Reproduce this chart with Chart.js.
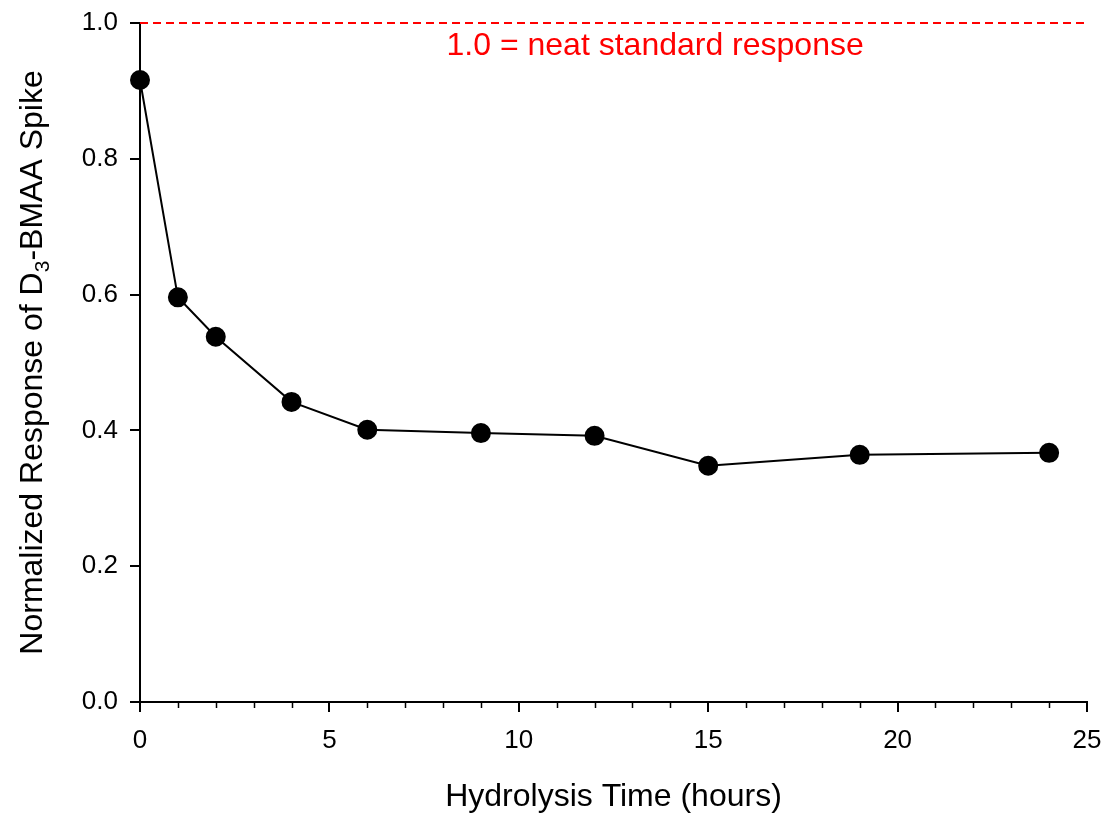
<!DOCTYPE html>
<html>
<head>
<meta charset="utf-8">
<script src="https://cdn.jsdelivr.net/npm/chart.js@4"></script>
<style>
  html, body { margin: 0; padding: 0; background: #fff; }
  #wrap { width: 1107px; height: 813px; }
</style>
</head>
<body>
<div id="wrap"><canvas id="chart" width="1107" height="813"></canvas></div>
<script>
// values
const hours = [0, 1, 2, 4, 6, 9, 12, 15, 19, 24];
const response = [0.916, 0.596, 0.538, 0.442, 0.401, 0.396, 0.392, 0.348, 0.364, 0.367];
const refHours = [0, 25];
const refLevel = [1.0, 1.0];
const xTicks = [0, 5, 10, 15, 20, 25];
const yTicks = [0.0, 0.2, 0.4, 0.6, 0.8, 1.0];

const FONT = '"Liberation Sans", Arial, sans-serif';

const toPoints = (xs, ys) => xs.map((x, i) => ({ x, y: ys[i] }));

// minor ticks, axis titles and the red note
const extras = {
  id: 'extras',
  afterDraw(chart) {
    const { ctx, chartArea, scales } = chart;
    const xs = scales.x;
    ctx.save();

    // minor x ticks every hour
    ctx.strokeStyle = '#000';
    ctx.lineWidth = 1.5;
    for (let h = 0; h <= 25; h++) {
      if (h % 5 === 0) continue;
      const px = Math.round(xs.getPixelForValue(h)) + 0.5;
      ctx.beginPath();
      ctx.moveTo(px, chartArea.bottom);
      ctx.lineTo(px, chartArea.bottom + 6);
      ctx.stroke();
    }

    // red note under the reference line
    ctx.fillStyle = '#ff0000';
    ctx.font = '32px ' + FONT;
    ctx.textAlign = 'center';
    ctx.textBaseline = 'alphabetic';
    ctx.fillText('1.0 = neat standard response', xs.getPixelForValue(13.6), 55);

    // x title
    ctx.fillStyle = '#000';
    ctx.font = '32px ' + FONT;
    ctx.fillText('Hydrolysis Time (hours)', (chartArea.left + chartArea.right) / 2, 806);

    // y title with subscript
    const parts = [
      { t: 'Normalized Response of D', f: '32px ' + FONT, dy: 0 },
      { t: '3', f: '21px ' + FONT, dy: 7 },
      { t: '-BMAA Spike', f: '32px ' + FONT, dy: 0 },
    ];
    let total = 0;
    parts.forEach((p) => { ctx.font = p.f; p.w = ctx.measureText(p.t).width; total += p.w; });
    ctx.translate(42, (chartArea.top + chartArea.bottom) / 2);
    ctx.rotate(-Math.PI / 2);
    ctx.textAlign = 'left';
    let cx = -total / 2;
    parts.forEach((p) => {
      ctx.font = p.f;
      ctx.fillText(p.t, cx, p.dy);
      cx += p.w;
    });
    ctx.restore();
  },
};

new Chart(document.getElementById('chart'), {
  type: 'scatter',
  data: {
    datasets: [
      {
        label: 'neat standard',
        data: toPoints(refHours, refLevel),
        showLine: true,
        borderColor: '#ff0000',
        borderWidth: 2,
        borderDash: [8, 5],
        pointRadius: 0,
        clip: false,
      },
      {
        label: 'D3-BMAA spike',
        data: toPoints(hours, response),
        showLine: true,
        borderColor: '#000',
        borderWidth: 2,
        backgroundColor: '#000',
        pointBackgroundColor: '#000',
        pointBorderColor: '#000',
        pointRadius: 9,
        pointHoverRadius: 9,
        clip: false,
      },
    ],
  },
  options: {
    responsive: false,
    animation: false,
    layout: { padding: { top: 23, right: 20, left: 0, bottom: 0 } },
    plugins: {
      legend: { display: false },
      tooltip: { enabled: false },
    },
    scales: {
      x: {
        type: 'linear',
        min: 0,
        max: 25,
        afterBuildTicks: (scale) => { scale.ticks = xTicks.map((v) => ({ value: v })); },
        afterFit: (scale) => {
          scale.height = 111;
          scale.paddingLeft = 0;
          scale.paddingRight = 0;
        },
        ticks: {
          color: '#000',
          font: { family: FONT, size: 26 },
          padding: 13,
          maxRotation: 0,
        },
        grid: { drawOnChartArea: false, tickLength: 10, color: '#000', lineWidth: 2 },
        border: { color: '#000', width: 2 },
      },
      y: {
        min: 0,
        max: 1,
        afterBuildTicks: (scale) => { scale.ticks = yTicks.map((v) => ({ value: v })); },
        afterFit: (scale) => {
          scale.width = 140;
          scale.paddingTop = 0;
          scale.paddingBottom = 0;
        },
        ticks: {
          color: '#000',
          font: { family: FONT, size: 26 },
          padding: 12,
          callback: (v) => Number(v).toFixed(1),
        },
        grid: { drawOnChartArea: false, tickLength: 10, color: '#000', lineWidth: 2 },
        border: { color: '#000', width: 2 },
      },
    },
  },
  plugins: [extras],
});
</script>
</body>
</html>
